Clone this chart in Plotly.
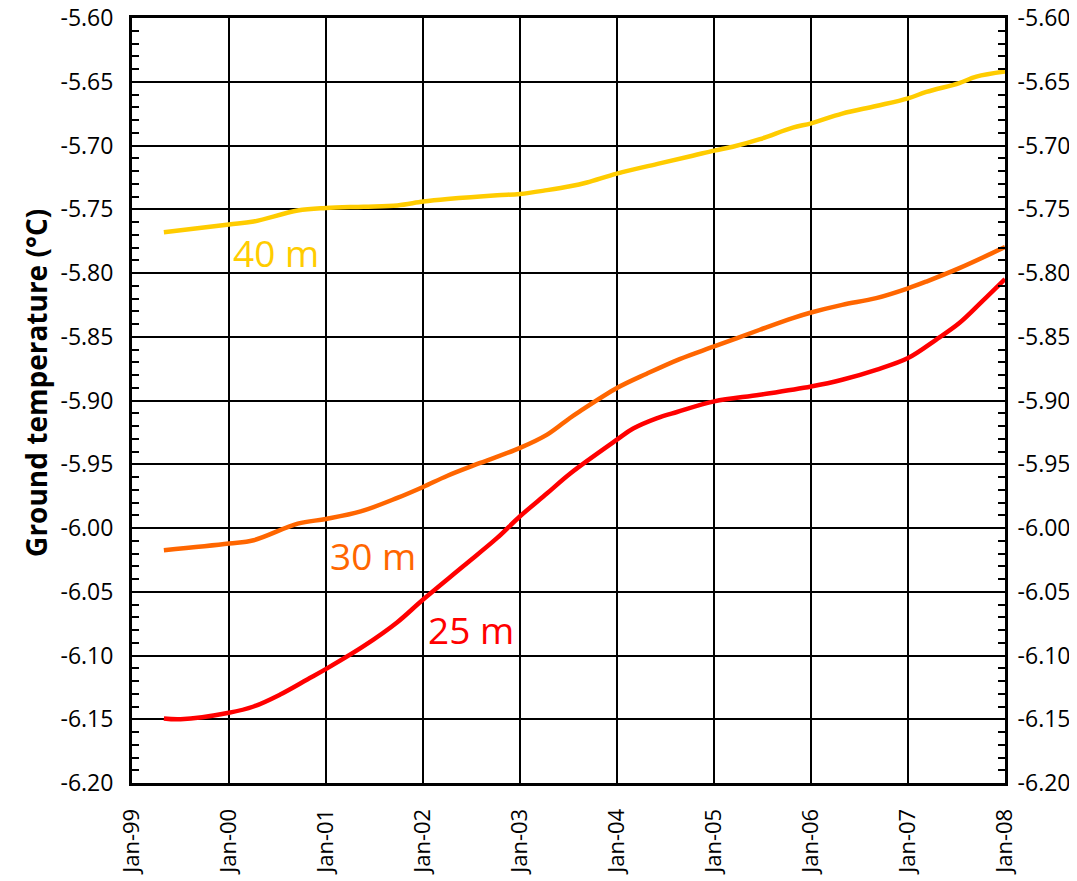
import plotly.graph_objects as go

# 40 m series
d40 = ["1999-05-01","2000-01-01","2000-04-03","2000-09-16","2001-01-01","2001-05-22","2001-09-26",
       "2002-01-01","2002-04-03","2002-10-07","2003-01-01","2003-04-13","2003-07-08","2003-09-10",
       "2004-01-01","2004-06-10","2004-10-12","2005-01-01","2005-03-12","2005-06-22","2005-10-24",
       "2006-01-01","2006-04-28","2006-09-03","2007-01-01","2007-03-11","2007-07-13","2007-09-15","2008-01-01"]
v40 = [-5.768,-5.762,-5.7596,-5.751,-5.749,-5.748,-5.747,
       -5.744,-5.742,-5.739,-5.738,-5.735,-5.732,-5.729,
       -5.722,-5.714,-5.708,-5.704,-5.701,-5.695,-5.686,
       -5.6826,-5.675,-5.669,-5.663,-5.658,-5.651,-5.646,-5.642]

# 30 m series
d30 = ["1999-05-01","2000-01-01","2000-04-03","2000-09-16","2001-01-01","2001-05-11","2001-09-26",
       "2002-01-01","2002-04-03","2002-08-04","2003-01-01","2003-04-13","2003-07-08","2003-08-14",
       "2004-01-01","2004-04-22","2004-08-24","2005-01-01","2005-06-22","2005-10-24",
       "2006-01-01","2006-04-28","2006-09-03","2007-01-01","2007-03-11","2007-07-13","2008-01-01"]
v30 = [-6.0175,-6.0122,-6.0096,-5.9966,-5.9929,-5.987,-5.9764,
       -5.9678,-5.959,-5.949,-5.9372,-5.9268,-5.9137,-5.9085,
       -5.8902,-5.879,-5.8675,-5.8576,-5.8445,-5.8354,
       -5.831,-5.825,-5.8197,-5.812,-5.8067,-5.7962,-5.7797]

# 25 m series
d25 = ["1999-05-01","1999-07-03","2000-01-01","2000-04-03","2000-07-12","2000-10-22","2001-01-01",
       "2001-05-22","2001-09-26","2002-01-01","2002-06-01","2002-10-07","2003-01-01","2003-04-13",
       "2003-07-08","2004-01-01","2004-03-02","2004-05-29","2004-08-14","2005-01-01","2005-06-22","2006-01-01",
       "2006-04-28","2006-09-03","2007-01-01","2007-04-16","2007-07-13","2007-10-07","2008-01-01"]
v25 = [-6.1494,-6.150,-6.1449,-6.140,-6.1306,-6.1188,-6.1105,
       -6.0927,-6.0739,-6.0561,-6.030,-6.0078,-5.9908,-5.9728,
       -5.9574,-5.9307,-5.922,-5.914,-5.909,-5.9007,-5.8955,-5.889,
       -5.8837,-5.8759,-5.8667,-5.8524,-5.8393,-5.8223,-5.8048]

labels = ["40 m", "30 m", "25 m"]
label_x = ["2000-01-10", "2001-01-08", "2002-01-12"]
label_y = [-5.784, -6.0216, -6.0796]
colors = ["#FFCC00", "#FF6600", "#FF0000"]

y_ticks = [-6.20, -6.15, -6.10, -6.05, -6.00, -5.95, -5.90, -5.85, -5.80, -5.75, -5.70, -5.65, -5.60]
y_ticktext = ["%.2f" % v for v in y_ticks]
y_title = "<b>Ground temperature (°C)</b>"

FONT = "Open Sans"

fig = go.Figure()
for d, v, c in [(d40, v40, colors[0]), (d30, v30, colors[1]), (d25, v25, colors[2])]:
    fig.add_trace(go.Scatter(x=d, y=v, mode="lines",
                             line=dict(color=c, width=4.5, shape="spline", smoothing=1.0),
                             showlegend=False, hoverinfo="skip"))
# invisible trace for right axis
fig.add_trace(go.Scatter(x=[d40[0]], y=[v40[0]], yaxis="y2", mode="markers",
                         marker=dict(opacity=0), showlegend=False, hoverinfo="skip"))

for t, x, y, c in zip(labels, label_x, label_y, colors):
    fig.add_annotation(x=x, y=y, text=t, showarrow=False, xanchor="left", yanchor="middle",
                       font=dict(family=FONT, size=37, color=c))

fig.add_annotation(x=-0.11, y=0.523, xref="paper", yref="paper", text=y_title, textangle=-90,
                   showarrow=False, xanchor="center", yanchor="middle",
                   font=dict(family=FONT, size=28, color="black"))

yax = dict(range=[-6.20, -5.60], tickmode="array", tickvals=y_ticks, ticktext=y_ticktext,
           ticks="inside", ticklen=10, tickwidth=2, tickcolor="black",
           minor=dict(dtick=0.01, tick0=-6.20, ticks="inside", ticklen=7, tickwidth=2, tickcolor="black", showgrid=False),
           showline=True, linecolor="black", linewidth=3,
           tickfont=dict(family=FONT, size=23, color="black"),
           ticklabeloverflow="allow",
           zeroline=False, fixedrange=True, automargin=False)

# page body has an 8px margin; margins compensate for it
fig.update_layout(
    width=1077, height=881,
    margin=dict(l=124, r=80, t=10, b=106),
    paper_bgcolor="white", plot_bgcolor="white",
    xaxis=dict(range=["1999-01-01", "2008-01-01"], tickmode="linear", tick0="1999-01-01", dtick="M12",
               tickformat="%b-%y", tickangle=-90,
               ticks="inside", ticklen=8, tickwidth=2, tickcolor="black",
               showgrid=True, gridcolor="black", gridwidth=2,
               showline=True, linecolor="black", linewidth=3, mirror=True,
               tickfont=dict(family=FONT, size=22, color="black"),
               ticklabelstandoff=14, ticklabeloverflow="allow", zeroline=False, automargin=False),
    yaxis=dict(**yax, showgrid=True, gridcolor="black", gridwidth=2, ticklabelstandoff=11),
    yaxis2=dict(**yax, showgrid=False, overlaying="y", side="right", ticklabelstandoff=5),
)

fig.write_html("out.html")
